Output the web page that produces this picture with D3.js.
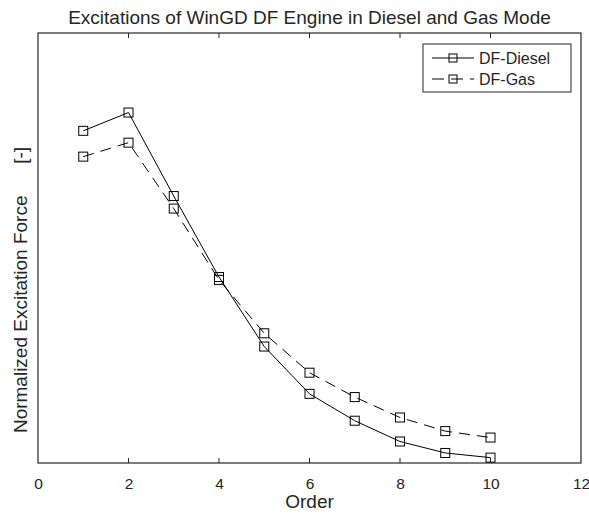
<!DOCTYPE html>
<html>
<head>
<meta charset="utf-8">
<script src="https://cdn.jsdelivr.net/npm/d3@7"></script>
<style>
  body { margin: 0; background: #fff; }
  text { font-family: "Liberation Sans", Arial, sans-serif; fill: #262626; }
</style>
</head>
<body>
<script>
// DATA ––––––––––––––––––––––––––––––––––––––––––––––––––––––––––––––
var orders = [1, 2, 3, 4, 5, 6, 7, 8, 9, 10];
var dieselForce = [0.927, 0.978, 0.745, 0.519, 0.325, 0.193, 0.118, 0.060, 0.028, 0.015];
var gasForce = [0.855, 0.894, 0.710, 0.511, 0.362, 0.252, 0.184, 0.127, 0.089, 0.071];
var xTicks = [0, 2, 4, 6, 8, 10, 12];
var seriesNames = ["DF-Diesel", "DF-Gas"];

// CHART ––––––––––––––––––––––––––––––––––––––––––––––––––––––––––––––
var drawChart = function() {
  var W = 589, H = 513;
  var margin = {top: 33, right: 8, bottom: 50, left: 38},
      width = W - margin.left - margin.right,
      height = H - margin.top - margin.bottom;

  var svg = d3.select("body").append("svg")
      .attr("width", W)
      .attr("height", H);

  var g = svg.append("g")
      .attr("transform", "translate(" + margin.left + "," + margin.top + ")");

  var x = d3.scaleLinear().domain([0, 12]).range([0, width]);
  var y = d3.scaleLinear().domain([0, 1.2]).range([height, 0]);

  var axisColor = "#262626";

  // bottom axis
  var xAxis = g.append("g")
      .attr("transform", "translate(0," + height + ")")
      .call(d3.axisBottom(x).tickValues(xTicks).tickSize(0).tickPadding(15));
  xAxis.select(".domain").remove();
  xAxis.selectAll("text")
      .style("font-size", "15.5px")
      .style("font-family", "Liberation Sans, Arial, sans-serif")
      .attr("fill", axisColor);

  // inner ticks top and bottom
  xTicks.slice(1, -1).forEach(function(t) {
    g.append("line")
      .attr("x1", x(t)).attr("x2", x(t))
      .attr("y1", height).attr("y2", height - 5)
      .attr("stroke", axisColor).attr("stroke-width", 1);
    g.append("line")
      .attr("x1", x(t)).attr("x2", x(t))
      .attr("y1", 0).attr("y2", 5)
      .attr("stroke", axisColor).attr("stroke-width", 1);
  });

  // box
  g.append("rect")
    .attr("x", 0).attr("y", 0)
    .attr("width", width).attr("height", height)
    .attr("fill", "none")
    .attr("stroke", axisColor)
    .attr("stroke-width", 1.2);

  // title and labels
  svg.append("text")
    .attr("x", margin.left + width / 2)
    .attr("y", 24)
    .attr("text-anchor", "middle")
    .style("font-size", "19px")
    .text("Excitations of WinGD DF Engine in Diesel and Gas Mode");

  svg.append("text")
    .attr("x", margin.left + width / 2)
    .attr("y", 508)
    .attr("text-anchor", "middle")
    .style("font-size", "19px")
    .text("Order");

  svg.append("text")
    .attr("transform", "translate(27,290) rotate(-90)")
    .attr("text-anchor", "middle")
    .style("font-size", "19px")
    .attr("xml:space", "preserve")
    .style("white-space", "pre")
    .text("Normalized Excitation Force      [-]");

  // lines
  var line = d3.line()
    .x(function(d, i) { return x(orders[i]); })
    .y(function(d) { return y(d); });

  var series = [
    {name: seriesNames[0], values: dieselForce, dash: null},
    {name: seriesNames[1], values: gasForce, dash: "11,7"}
  ];

  var ms = 9; // marker size
  series.forEach(function(s) {
    g.append("path")
      .datum(s.values)
      .attr("fill", "none")
      .attr("stroke", "#000")
      .attr("stroke-width", 1)
      .attr("stroke-dasharray", s.dash)
      .attr("d", line);

    g.selectAll(null)
      .data(s.values)
      .enter().append("rect")
        .attr("x", function(d, i) { return x(orders[i]) - ms / 2; })
        .attr("y", function(d) { return y(d) - ms / 2; })
        .attr("width", ms).attr("height", ms)
        .attr("fill", "none")
        .attr("stroke", "#000")
        .attr("stroke-width", 1);
  });

  // legend
  var lg = svg.append("g").attr("transform", "translate(423,44)");
  lg.append("rect")
    .attr("width", 148).attr("height", 48)
    .attr("fill", "#fff")
    .attr("stroke", axisColor)
    .attr("stroke-width", 1);

  series.forEach(function(s, i) {
    var ly = 14 + i * 21;
    lg.append("line")
      .attr("x1", 9).attr("x2", 51)
      .attr("y1", ly).attr("y2", ly)
      .attr("stroke", "#000")
      .attr("stroke-width", 1)
      .attr("stroke-dasharray", s.dash ? "12,7" : null);
    lg.append("rect")
      .attr("x", 30 - 4).attr("y", ly - 4)
      .attr("width", 8).attr("height", 8)
      .attr("fill", "none")
      .attr("stroke", "#000");
    lg.append("text")
      .attr("x", 56).attr("y", ly)
      .attr("dy", "0.35em")
      .style("font-size", "16px")
      .text(s.name);
  });
};

drawChart();
</script>
</body>
</html>
